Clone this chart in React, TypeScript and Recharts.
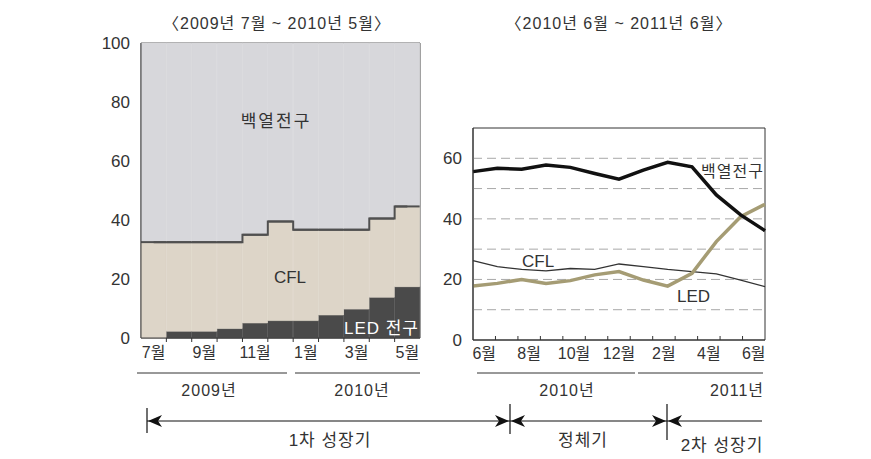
import React from 'react';
import { ComposedChart, LineChart, Bar, Line, XAxis, YAxis, ReferenceArea, ReferenceLine } from 'recharts';

const FONT = "'Liberation Sans', 'Noto Sans CJK KR', sans-serif";
const INK = '#333';

// 왼쪽: 2009년 7월 ~ 2010년 5월 점유율 (%)
const leftMonths = ['7월', '8월', '9월', '10월', '11월', '12월', '1월', '2월', '3월', '4월', '5월'];
const ledShare = [0, 2.3, 2.3, 3.2, 5.1, 5.9, 5.9, 7.8, 9.8, 13.8, 17.4];
const cflShare = [32.5, 30.2, 30.2, 29.3, 29.9, 33.6, 30.8, 28.9, 26.9, 26.7, 27.2];
const bulbShare = [67.5, 67.5, 67.5, 67.5, 65.0, 60.5, 63.3, 63.3, 63.3, 59.5, 55.4];
const leftTicks = [0, 20, 40, 60, 80, 100];

// 오른쪽: 2010년 6월 ~ 2011년 6월
const rightMonths = ['6월', '7월', '8월', '9월', '10월', '11월', '12월', '1월', '2월', '3월', '4월', '5월', '6월'];
const bulbRight = [55.6, 56.7, 56.4, 57.8, 57.0, 55.0, 53.1, 56.1, 58.7, 57.2, 47.9, 41.3, 36.1];
const cflRight = [26.2, 24.2, 23.3, 22.8, 23.6, 23.3, 25.1, 24.2, 23.3, 22.6, 21.8, 19.8, 17.6];
const ledRight = [17.8, 18.7, 20.0, 18.7, 19.6, 21.5, 22.6, 19.8, 17.8, 22.0, 32.5, 40.7, 44.8];
const rightTicks = [0, 20, 40, 60];
const rightGrid = [10, 20, 30, 40, 50, 60];

const leftData = leftMonths.map((m, i) => ({
  month: m,
  led: ledShare[i],
  cfl: cflShare[i],
  bulb: bulbShare[i],
  cflTop: ledShare[i] + cflShare[i],
}));

const rightData = rightMonths.map((m, i) => ({
  x: i,
  month: m,
  bulb: bulbRight[i],
  cfl: cflRight[i],
  led: ledRight[i],
}));

// layout
const LEFT_W = 440;
const LEFT_H = 372;
const LEFT_MARGIN = { top: 43, right: 20, left: 101, bottom: 0 };
const LEFT_PLOT_W = LEFT_W - LEFT_MARGIN.left - LEFT_MARGIN.right - 40;

const RIGHT_W = 360;
const RIGHT_H = 374;
const RIGHT_MARGIN = { top: 128, right: 15, left: 13, bottom: 0 };

// month grid on the right: 13 month slots, ticks between slots, labels every other slot
const nSlots = rightMonths.length;
const xMax = rightMonths.length - 1;
const rightAxisTicks: number[] = [];
for (let k = 1; k < nSlots; k++) rightAxisTicks.push((k * xMax) / nSlots);
for (let k = 0; k < nSlots; k += 2) rightAxisTicks.push(((k + 0.5) * xMax) / nSlots);

const LeftTick = (props: any) => {
  const { x, y, payload } = props;
  const idx = leftMonths.indexOf(payload.value);
  const band = LEFT_PLOT_W / leftMonths.length;
  return (
    <g>
      {idx > 0 && <line x1={x - band / 2} x2={x - band / 2} y1={y} y2={y + 4} stroke={INK} />}
      {idx % 2 === 0 && (
        <text x={x} y={y + 20} textAnchor="middle" fontSize={16} fill={INK} fontFamily={FONT}>
          {payload.value}
        </text>
      )}
    </g>
  );
};

const RightTick = (props: any) => {
  const { x, y, payload } = props;
  const u = Math.round((payload.value * 2 * nSlots) / xMax);
  if (u % 2 === 1) {
    return (
      <text x={x} y={y + 19} textAnchor="middle" fontSize={16} fill={INK} fontFamily={FONT}>
        {rightMonths[(u - 1) / 2]}
      </text>
    );
  }
  return <line x1={x} x2={x} y1={y} y2={y - 4} stroke={INK} />;
};

// incandescent band, with the CFL boundary drawn along its lower edge
const BulbShape = (props: any) => {
  const { x, y, width, height } = props;
  return (
    <g>
      <rect x={x} y={y} width={width} height={height} fill="#d7d7db" stroke="#d7d7db" strokeWidth={0.6} />
      <line x1={x} x2={x + width} y1={y + height} y2={y + height} stroke="#505050" strokeWidth={2} />
    </g>
  );
};

function Arrow({ x, dir }: { x: number; dir: 1 | -1 }) {
  // tip at x, pointing left (dir=-1) or right (dir=1)
  const y = 421;
  const b = x - dir * 14;
  return <polygon points={`${x},${y} ${b},${y - 6} ${b + dir * 4},${y} ${b},${y + 6}`} fill="#111" />;
}

const ko = { fill: INK, letterSpacing: 1 };

export default function App() {
  return (
    <div style={{ position: 'absolute', left: 0, top: 0, width: 871, height: 459, background: '#fff', fontFamily: FONT }}>
      <div style={{ position: 'absolute', left: 0, top: 0 }}>
        <ComposedChart width={LEFT_W} height={LEFT_H} data={leftData} margin={LEFT_MARGIN} barCategoryGap={0} barGap={0}>
          <XAxis
            dataKey="month"
            interval={0}
            height={34}
            tickLine={false}
            tickSize={0}
            tickMargin={0}
            axisLine={{ stroke: '#444' }}
            tick={LeftTick}
          />
          <YAxis
            domain={[0, 100]}
            ticks={leftTicks}
            width={40}
            tickLine={false}
            tickMargin={5}
            axisLine={{ stroke: '#444' }}
            tick={{ fontSize: 17, fill: INK, fontFamily: FONT }}
          />
          <Bar dataKey="led" stackId="s" fill="#4a4a4a" stroke="#4a4a4a" strokeWidth={0.6} isAnimationActive={false} />
          <Bar dataKey="cfl" stackId="s" fill="#ddd5c8" stroke="#ddd5c8" strokeWidth={0.6} isAnimationActive={false} />
          <Bar dataKey="bulb" stackId="s" shape={BulbShape} isAnimationActive={false} />
          <Line dataKey="cflTop" type="step" stroke="#505050" strokeWidth={2} dot={false} activeDot={false} isAnimationActive={false} />
          <ReferenceArea y1={0} y2={100} fill="none" stroke="#444" strokeWidth={1} />
        </ComposedChart>
      </div>

      <div style={{ position: 'absolute', left: 420, top: 0 }}>
        <LineChart width={RIGHT_W} height={RIGHT_H} data={rightData} margin={RIGHT_MARGIN}>
          <XAxis
            type="number"
            dataKey="x"
            domain={[0, xMax]}
            ticks={rightAxisTicks}
            interval={0}
            height={34}
            tickLine={false}
            tickSize={0}
            tickMargin={0}
            axisLine={{ stroke: INK }}
            tick={RightTick}
          />
          <YAxis
            domain={[0, 70]}
            ticks={rightTicks}
            width={40}
            tickLine={false}
            tickMargin={5}
            axisLine={{ stroke: INK }}
            tick={{ fontSize: 17, fill: INK, fontFamily: FONT }}
          />
          {rightGrid.map((v) => (
            <ReferenceLine key={v} y={v} stroke="#a8a8a8" strokeDasharray="9 5" />
          ))}
          <ReferenceArea x1={0} x2={xMax} y1={0} y2={70} fill="none" stroke={INK} strokeWidth={1} />
          <Line dataKey="cfl" type="linear" stroke="#333" strokeWidth={1.3} dot={false} activeDot={false} isAnimationActive={false} />
          <Line dataKey="led" type="linear" stroke="#a59c74" strokeWidth={3.5} dot={false} activeDot={false} isAnimationActive={false} />
          <Line dataKey="bulb" type="linear" stroke="#111" strokeWidth={3.5} dot={false} activeDot={false} isAnimationActive={false} />
        </LineChart>
      </div>

      <svg width={871} height={459} style={{ position: 'absolute', left: 0, top: 0, pointerEvents: 'none' }} fontFamily={FONT}>
        {/* titles */}
        <text x={277} y={29} textAnchor="middle" fontSize={16} {...ko}>〈2009년 7월 ~ 2010년 5월〉</text>
        <text x={619} y={29} textAnchor="middle" fontSize={16} {...ko}>〈2010년 6월 ~ 2011년 6월〉</text>

        {/* series labels */}
        <text x={276} y={127} textAnchor="middle" fontSize={17} {...ko} letterSpacing={2}>백열전구</text>
        <text x={290} y={283} textAnchor="middle" fontSize={17} fill={INK}>CFL</text>
        <text x={419} y={334} textAnchor="end" fontSize={17} fill="#fff" letterSpacing={1}>LED 전구</text>
        <text x={701} y={177} fontSize={16} {...ko}>백열전구</text>
        <text x={522} y={267} fontSize={17} fill={INK}>CFL</text>
        <text x={677} y={302} fontSize={17} fill={INK}>LED</text>

        {/* year groups */}
        <line x1={137} x2={287} y1={373} y2={373} stroke={INK} />
        <line x1={295} x2={420} y1={373} y2={373} stroke={INK} />
        <line x1={477} x2={635} y1={373} y2={373} stroke={INK} />
        <line x1={638} x2={763} y1={373} y2={373} stroke={INK} />
        <text x={209} y={396} textAnchor="middle" fontSize={16} {...ko}>2009년</text>
        <text x={362} y={396} textAnchor="middle" fontSize={16} {...ko}>2010년</text>
        <text x={567} y={396} textAnchor="middle" fontSize={16} {...ko}>2010년</text>
        <text x={737} y={396} textAnchor="middle" fontSize={16} {...ko}>2011년</text>

        {/* growth phases */}
        <line x1={147} x2={762} y1={421} y2={421} stroke="#111" strokeWidth={1.2} />
        <line x1={147} x2={147} y1={408} y2={433} stroke="#111" strokeWidth={1.2} />
        <line x1={510} x2={510} y1={404} y2={434} stroke="#111" strokeWidth={1.2} />
        <line x1={667} x2={667} y1={404} y2={440} stroke="#111" strokeWidth={1.2} />
        <Arrow x={148} dir={-1} />
        <Arrow x={509} dir={1} />
        <Arrow x={511} dir={-1} />
        <Arrow x={666} dir={1} />
        <Arrow x={668} dir={-1} />
        <text x={330} y={446} textAnchor="middle" fontSize={17} {...ko}>1차 성장기</text>
        <text x={583} y={446} textAnchor="middle" fontSize={17} {...ko}>정체기</text>
        <text x={722} y={451} textAnchor="middle" fontSize={17} {...ko}>2차 성장기</text>
      </svg>
    </div>
  );
}
